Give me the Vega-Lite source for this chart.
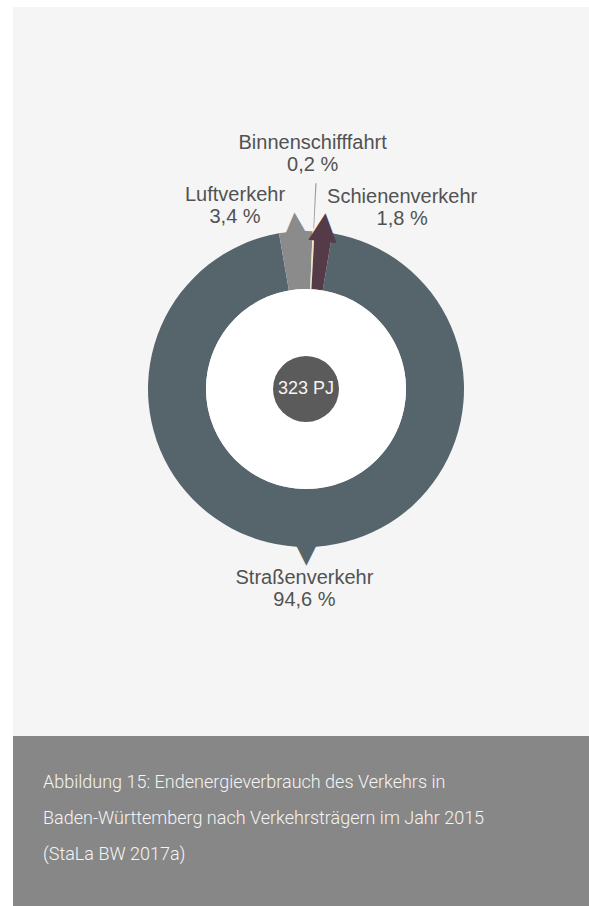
{
  "$schema": "https://vega.github.io/schema/vega-lite/v6.json",
  "background": "white",
  "padding": {"left": 13, "top": 7, "right": 0, "bottom": 0},
  "config": {"view": {"stroke": null}},
  "datasets": {
    "modes": [
      {"name": "Straßenverkehr", "share": 94.6, "rank": 1},
      {"name": "Luftverkehr", "share": 3.4, "rank": 2},
      {"name": "Binnenschifffahrt", "share": 0.2, "rank": 3},
      {"name": "Schienenverkehr", "share": 1.8, "rank": 4}
    ],
    "total": [{"energy": 323, "unit": "PJ"}]
  },
  "spacing": 0,
  "vconcat": [
    {
      "width": 576, "height": 35,
      "data": {"values": []},
      "mark": "point",
      "view": {"fill": "#f5f5f5", "stroke": null}
    },
    {
      "spacing": 0,
      "hconcat": [
        {
          "width": 10, "height": 694,
          "data": {"values": []},
          "mark": "point",
          "view": {"fill": "#f5f5f5", "stroke": null}
        },
        {
          "width": 566, "height": 694,
          "view": {"fill": "#f5f5f5", "stroke": null},
          "layer": [
            {
              "data": {"name": "modes"},
              "mark": {"type": "arc", "innerRadius": 100, "outerRadius": 158},
              "encoding": {
                "theta": {"field": "share", "type": "quantitative", "stack": true, "scale": {"range": [0.16755, 6.45074]}},
                "order": {"field": "rank", "type": "quantitative"},
                "color": {"field": "name", "type": "nominal", "legend": null,
                  "scale": {"domain": ["Straßenverkehr", "Luftverkehr", "Binnenschifffahrt", "Schienenverkehr"],
                            "range": ["#56656c", "#8b8b8b", "#efe5c4", "#553a47"]}}
              }
            },
            {
              "data": {"name": "total"},
              "mark": {"type": "point", "shape": "circle", "filled": true, "size": 40000, "color": "#ffffff", "opacity": 1, "strokeWidth": 0}
            },
            {
              "data": {"name": "modes"},
              "mark": {"type": "text", "radius": 153, "font": "DejaVu Sans", "fontSize": 37, "baseline": "alphabetic", "align": "center",
                       "angle": {"expr": "9.6 + 1.8 * (datum.share_start + datum.share_end)"}},
              "encoding": {
                "theta": {"field": "share", "type": "quantitative", "stack": true, "scale": {"range": [0.16755, 6.45074]}},
                "order": {"field": "rank", "type": "quantitative"},
                "color": {"field": "name", "type": "nominal", "legend": null},
                "text": {"condition": {"test": "datum.name === 'Binnenschifffahrt'", "value": ""}, "value": "▲"}
              }
            },
            {
              "data": {"name": "modes"},
              "mark": {"type": "arc", "innerRadius": 161, "outerRadius": 206, "padAngle": 0.005},
              "encoding": {
                "theta": {"field": "share", "type": "quantitative", "stack": true, "scale": {"range": [0.16755, 6.45074]}},
                "order": {"field": "rank", "type": "quantitative"},
                "color": {"condition": {"test": "datum.name === 'Binnenschifffahrt'", "value": "#9d9d9d"}, "value": "transparent"}
              }
            },
            {
              "data": {"name": "modes"},
              "mark": {"type": "text", "radius": 200, "font": "Liberation Sans", "fontSize": 20, "lineHeight": 22,
                       "color": "#525252", "align": "center", "baseline": "middle",
                       "text": {"expr": "[datum.name, replace(format(datum.share, '.1f'), '.', ',') + ' %']"},
                       "dx": {"expr": "datum.name === 'Luftverkehr' ? -58 : datum.name === 'Schienenverkehr' ? 74 : datum.name === 'Binnenschifffahrt' ? -3 : -2"},
                       "dy": {"expr": "datum.name === 'Luftverkehr' ? 6 : datum.name === 'Schienenverkehr' ? 7 : datum.name === 'Binnenschifffahrt' ? -46 : -11"}},
              "encoding": {
                "theta": {"field": "share", "type": "quantitative", "stack": true, "scale": {"range": [0.16755, 6.45074]}},
                "order": {"field": "rank", "type": "quantitative"}
              }
            },
            {
              "data": {"name": "total"},
              "mark": {"type": "point", "shape": "circle", "filled": true, "size": 4356, "color": "#5b5b5b", "opacity": 1, "strokeWidth": 0}
            },
            {
              "data": {"name": "total"},
              "mark": {"type": "text", "font": "Liberation Sans", "fontSize": 18, "color": "#f4f4f4", "align": "center", "baseline": "middle",
                       "text": {"expr": "datum.energy + ' ' + datum.unit"}}
            }
          ]
        }
      ]
    },
    {
      "width": 576, "height": 170,
      "data": {"values": []},
      "mark": "point",
      "view": {"fill": "#878787", "stroke": null},
      "title": {
        "text": ["Abbildung 15: Endenergieverbrauch des Verkehrs in", "Baden-Württemberg nach Verkehrsträgern im Jahr 2015", "(StaLa BW 2017a)"],
        "orient": "top", "anchor": "start", "frame": "group", "baseline": "alphabetic",
        "offset": -142, "dx": 30, "lineHeight": 36,
        "font": "Roboto", "fontWeight": 300, "fontSize": 18, "color": "#f5f5f5"
      }
    }
  ]
}
